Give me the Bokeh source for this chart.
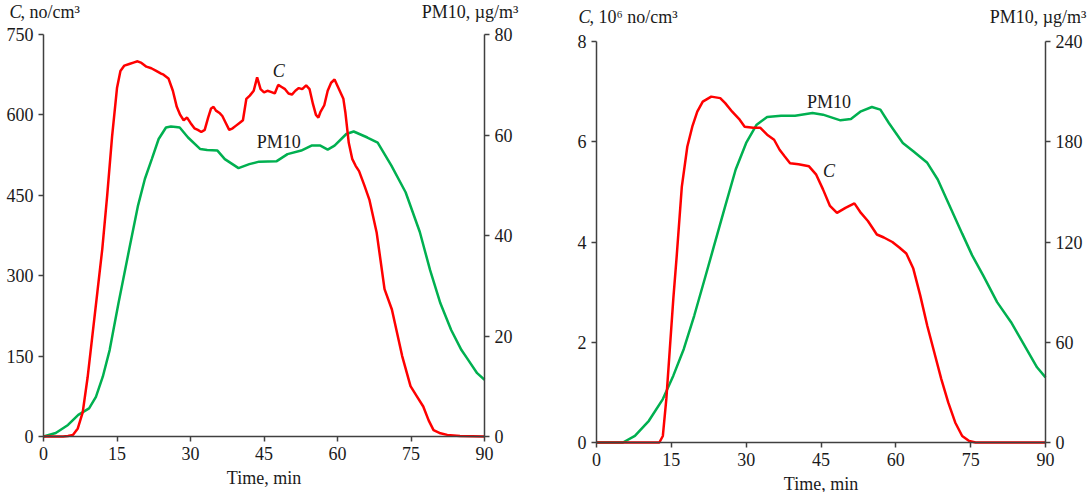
from bokeh.plotting import figure
from bokeh.models import Range1d, LinearAxis, FixedTicker, Label
from bokeh.layouts import row
from bokeh.embed import file_html
from bokeh.resources import INLINE

# ---------------- data ----------------
time_ticks = [0, 15, 30, 45, 60, 75, 90]

# left panel: C (no/cm3) and PM10 (ug/m3)
left_c_ticks = [0, 150, 300, 450, 600, 750]
left_pm_ticks = [0, 20, 40, 60, 80]
left_c_t = [0, 2, 4, 5, 6, 7, 8, 9, 10, 11, 12, 13, 14, 15, 15.7, 16.5, 17.5, 18.5, 19.2, 20,
            21, 22, 23, 24, 24.5, 25.5, 26.4, 27.2, 27.9, 28.6, 29.3, 30, 30.8, 31.5, 32.2,
            32.9, 33.6, 34.2, 34.7, 35.2, 36, 36.5, 37.2, 37.9, 38.6, 39.3, 40, 40.7, 41.4,
            42.1, 42.9, 43.6, 44.3, 45, 45.7, 46.4, 47.2, 47.9, 48.6, 49.3, 50, 50.7, 51.4,
            52.1, 52.8, 53.6, 54.3, 55, 55.6, 56.1, 56.5, 57.3, 58, 58.7, 59.4, 60.1, 60.8,
            61.2, 61.6, 62.3, 63, 63.7, 64.4, 65.5, 66.5, 68, 69.6, 71.1, 73.2, 74.9, 76.2,
            77.5, 78.6, 79.6, 81, 82.4, 85, 90]
left_c_v = [0, 0, 0, 1, 3, 15, 45, 110, 190, 270, 350, 450, 560, 650, 682, 692, 695, 698, 700, 697,
            690, 687, 682, 677, 675, 668, 645, 615, 600, 590, 595, 585, 575, 572, 568,
            572, 595, 612, 615, 608, 603, 598, 585, 572, 575, 580, 585, 590, 630,
            636, 645, 670, 648, 642, 645, 643, 640, 656, 652, 648, 640, 638, 645,
            650, 648, 655, 648, 620, 600, 595, 605, 618, 645, 660, 666, 652, 638,
            630, 605, 548, 518, 505, 495, 468, 442, 380, 275, 237, 150, 94, 75,
            56, 30, 12, 6, 3, 1, 0]
left_pm_t = [0, 2.5, 5, 7.1, 9.3, 10.7, 12.1, 13.5, 15.3, 17.5, 19.3, 20.7, 22.1, 23.5, 25, 26,
             27, 27.8, 29.5, 32, 33.4, 35.5, 37, 39.8, 42, 44, 47.6, 49.8, 52.6, 54.7, 56.5,
             58, 59.4, 61.8, 63.3, 66.1, 68.2, 71, 73.9, 76.8, 78.9, 81, 83.2, 85.3, 86.7,
             88.5, 90]
left_pm_v = [0, 0.7, 2.3, 4.3, 5.6, 7.9, 11.9, 17.2, 26.5, 37.3, 46, 51.3, 55.2, 59.2, 61.5, 61.7,
             61.6, 61.5, 59.5, 57.2, 57, 56.9, 55.2, 53.4, 54.2, 54.7, 54.8, 56.2, 56.9, 57.9, 57.9,
             57.1, 57.9, 60.2, 60.7, 59.5, 58.5, 53.9, 48.6, 40.7, 33.1, 26.5, 21.2, 17.2, 15.2,
             12.6, 11.3]

# right panel: C (10^6 no/cm3) and PM10 (ug/m3)
right_c_ticks = [0, 2, 4, 6, 8]
right_pm_ticks = [0, 60, 120, 180, 240]
right_c_t = [0, 12.6, 13.3, 14, 14.7, 15.4, 16.1, 17.1, 18.2, 19.2, 20.2, 21.3, 23, 24.8, 25.8,
             27.2, 28.7, 29.7, 31.4, 32.8, 34.2, 35.6, 36.7, 37.7, 38.8, 40.5, 42.6, 44, 45.4,
             46.8, 48.2, 49.9, 51.7, 53, 54.4, 56.2, 57.6, 59.3, 60.7, 62.1, 63.5, 64.9, 66.3,
             67.7, 69.1, 70.5, 71.9, 73.3, 74.7, 76, 90]
right_c_v = [0, 0, 0.13, 0.87, 1.87, 2.87, 3.75, 5.1, 5.9, 6.3, 6.6, 6.8, 6.9, 6.87, 6.77,
             6.6, 6.44, 6.3, 6.28, 6.28, 6.14, 6.04, 5.84, 5.71, 5.57, 5.55, 5.51, 5.35, 5.05,
             4.72, 4.58, 4.68, 4.77, 4.58, 4.42, 4.15, 4.09, 4.0, 3.89, 3.77, 3.47, 2.93, 2.33,
             1.8, 1.27, 0.8, 0.4, 0.13, 0.03, 0, 0]
right_pm_t = [0, 5.3, 7.7, 10.5, 13.3, 15.4, 17.5, 19.6, 21.7, 23.4, 25.8, 27.9, 30, 32.1, 34.2,
              37, 39.8, 43.3, 45.4, 48.9, 51, 53, 55.2, 56.9, 58.6, 61.4, 63.5, 66.3, 68.4, 70.5,
              73.3, 75.3, 77.5, 80.3, 83.1, 85.8, 88.3, 90]
right_pm_v = [0, 0, 4, 13, 26, 40, 56, 76, 98, 116, 141.5, 163.4, 179.3, 190.2, 194.8,
              195.6, 195.6, 197.2, 196.2, 192.8, 193.6, 198.2, 200.8, 199.2, 191.2, 179.3, 174.3,
              167.4, 157.4, 143.5, 125, 112, 100, 84, 72, 58, 45, 39]

# ---------------- style ----------------
FONT = "Liberation Serif"
FS = "18px"
RED = "#FF0000"
GREEN = "#00B050"
AX = "#404040"
TXT = "#1a1a1a"


def style_axis(ax, standoff=5, label_standoff=5):
    ax.axis_line_color = AX
    ax.axis_line_width = 1.5
    ax.major_tick_line_color = AX
    ax.major_tick_line_width = 1.5
    ax.major_tick_out = 5
    ax.major_tick_in = 0
    ax.minor_tick_line_color = None
    ax.major_label_text_font = FONT
    ax.major_label_text_font_size = FS
    ax.major_label_text_color = TXT
    ax.major_label_standoff = standoff
    ax.axis_label_text_font = FONT
    ax.axis_label_text_font_size = FS
    ax.axis_label_text_font_style = "normal"
    ax.axis_label_text_color = TXT
    ax.axis_label_standoff = label_standoff


def txt(p, x, y, text, align="center", italic=False, x_offset=0, y_offset=0):
    p.add_layout(Label(x=x, y=y, text=text, text_font=FONT, text_font_size=FS,
                       text_font_style="italic" if italic else "normal",
                       text_color=TXT, text_align=align, text_baseline="middle",
                       x_offset=x_offset, y_offset=y_offset))


def span(lo, hi, before_px, plot_px, after_px):
    # extend a data interval so that it sits at the given pixel position in the canvas
    k = (hi - lo) / plot_px
    return lo - before_px * k, hi + after_px * k


def panel(width, height, left_px, plot_w, top_px, plot_h, ymax, y2max, yticks, y2ticks,
          ct, cv, pt, pv):
    right_px = width - left_px - plot_w
    bottom_px = height - top_px - plot_h
    xs, xe = span(0, 90, left_px, plot_w, right_px)
    ys, ye = span(0, ymax, bottom_px, plot_h, top_px)
    y2s, y2e = span(0, y2max, bottom_px, plot_h, top_px)
    p = figure(width=width, height=height, x_range=Range1d(xs, xe), y_range=Range1d(ys, ye),
               output_backend="svg", toolbar_location=None,
               min_border_left=0, min_border_right=0, min_border_top=0, min_border_bottom=0)
    p.extra_y_ranges = {"pm": Range1d(y2s, y2e)}
    p.grid.visible = False
    p.outline_line_color = None
    p.background_fill_color = "white"
    p.border_fill_color = "white"
    xa = p.xaxis[0]
    xa.ticker = FixedTicker(ticks=time_ticks)
    xa.axis_label = "Time, min"
    xa.fixed_location = 0
    xa.bounds = (0, 90)
    ya = p.yaxis[0]
    ya.ticker = FixedTicker(ticks=yticks)
    ya.fixed_location = 0
    ya.bounds = (0, ymax)
    ax2 = LinearAxis(y_range_name="pm", ticker=FixedTicker(ticks=y2ticks),
                     fixed_location=90, bounds=(0, y2max))
    p.add_layout(ax2, "right")
    style_axis(xa)
    style_axis(ya)
    style_axis(ax2)
    p.line(pt, pv, y_range_name="pm", line_color=GREEN, line_width=2.5)
    p.line(ct, cv, line_color=RED, line_width=2.5)
    return p


# left panel: plot area at x 44..485, y 35..437 of the page
p1 = panel(544, 492, 43, 441, 34, 402, 750, 80, left_c_ticks, left_pm_ticks,
           left_c_t, left_c_v, left_pm_t, left_pm_v)
txt(p1, 0, 750, "C", align="left", italic=True, x_offset=-34, y_offset=23)
txt(p1, 0, 750, ", no/cm³", align="left", x_offset=-23, y_offset=23)
txt(p1, 90, 750, "PM10, µg/m³", align="right", x_offset=34, y_offset=23)
txt(p1, 48, 682, "C", italic=True)
txt(p1, 48, 550, "PM10")

# right panel: plot area at x 597..1046, y 42..443 of the page
p2 = panel(543, 492, 52, 449, 41, 401, 8, 240, right_c_ticks, right_pm_ticks,
           right_c_t, right_c_v, right_pm_t, right_pm_v)
txt(p2, 0, 8, "C", align="left", italic=True, x_offset=-18, y_offset=25)
txt(p2, 0, 8, ", 10⁶ no/cm³", align="left", x_offset=-7, y_offset=25)
txt(p2, 90, 8, "PM10, µg/m³", align="right", x_offset=41, y_offset=25)
txt(p2, 46.6, 6.79, "PM10")
txt(p2, 46.6, 5.42, "C", italic=True)

layout = row(p1, p2)
open("out.html", "w").write(file_html(layout, INLINE))
